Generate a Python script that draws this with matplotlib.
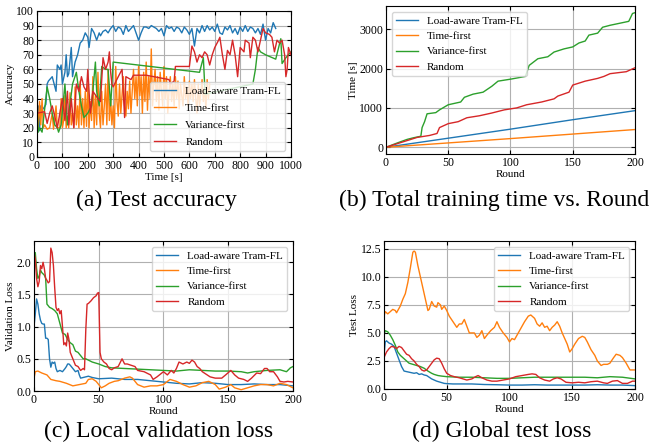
import matplotlib
matplotlib.use("Agg")
import matplotlib.pyplot as plt

plt.rcParams['font.family'] = ['Liberation Serif', 'DejaVu Serif']
plt.rcParams['font.size'] = 8
plt.rcParams['xtick.direction'] = 'in'
plt.rcParams['ytick.direction'] = 'in'
plt.rcParams['xtick.top'] = True
plt.rcParams['ytick.right'] = True
plt.rcParams['lines.linewidth'] = 1.0

labels = ['Load-aware Tram-FL', 'Time-first', 'Variance-first', 'Random']
colors = ['tab:blue', 'tab:orange', 'tab:green', 'tab:red']

# (a) test accuracy vs time
acc_blue_t = [0, 5, 10, 15, 25, 35, 40, 45, 60, 75, 80, 90, 95, 100, 110, 115, 120, 125, 135, 140,
              150, 160, 170, 180, 190, 200, 205, 215, 225, 235, 245, 250, 260, 270, 280, 290, 300,
              310, 320, 330, 340, 350, 360, 370, 380, 390, 400, 410, 420, 430, 440, 450, 470, 480,
              490, 500, 510, 520, 530, 540, 550, 560, 570, 580, 590, 600, 610, 620, 630, 640, 650,
              660, 670, 680, 690, 700, 710, 720, 730, 740, 750, 760, 770, 780, 790, 800, 810, 820,
              830, 840, 850, 860, 870, 880, 890, 900, 910, 920, 930, 940]
acc_blue = [20, 35, 18, 35, 33, 36, 50, 52, 55, 45, 63, 60, 63, 50, 58, 70, 55, 57, 75, 55,
            65, 70, 78, 80, 85, 82, 75, 88, 85, 80, 85, 83, 86, 87, 85, 88, 90,
            86, 89, 88, 84, 90, 86, 88, 90, 85, 80, 85, 89, 89, 88, 90, 88, 86,
            88, 83, 90, 88, 89, 86, 89, 88, 85, 89, 87, 84, 88, 76, 88, 85, 90,
            86, 90, 87, 89, 86, 91, 85, 84, 89, 87, 90, 85, 88, 84, 89, 86, 90,
            86, 89, 88, 85, 88, 84, 91, 80, 88, 85, 92, 88]

acc_orange_t = [0, 5, 10, 15, 20, 25, 30, 40, 50, 60, 65, 75, 80, 90, 95, 100, 105, 110, 115, 120,
                125, 130, 135, 140, 145, 150, 155, 160, 165, 170, 175, 180, 185, 190, 195, 200, 205,
                210, 215, 220, 225, 230, 235, 240, 245, 250, 255, 260, 265, 270, 275, 280, 285, 290,
                295, 300, 305, 310, 315, 320, 325, 330, 340, 345, 350, 355, 360, 365, 370, 375, 380,
                385, 390, 395, 400, 405, 410, 415, 420, 425, 430, 435, 440, 445, 450, 455, 460, 465,
                470, 475, 480, 485, 490, 495, 500, 505, 510, 515, 520, 525, 530, 535, 540, 545, 550,
                555, 560, 565, 570, 575, 580, 585, 590, 595, 600, 605, 610, 615, 620, 625, 630, 635,
                640, 650, 655, 660, 665, 670, 675, 680]
acc_orange = [35, 20, 38, 22, 40, 20, 22, 19, 20, 30, 19, 35, 20, 20, 40, 20, 25, 42, 20, 28,
              20, 44, 22, 30, 20, 48, 22, 35, 20, 52, 22, 40, 20, 45, 21, 50, 20,
              38, 25, 55, 20, 42, 22, 58, 30, 20, 45, 22, 35, 50, 22, 60, 25, 40,
              22, 35, 20, 62, 38, 28, 50, 30, 55, 35, 28, 45, 33, 52, 30, 45, 60,
              40, 55, 35, 62, 42, 55, 30, 58, 38, 65, 32, 55, 40, 74, 35, 50, 60,
              38, 55, 32, 58, 45, 35, 62, 40, 55, 30, 45, 55, 38, 50, 35, 55, 40,
              52, 33, 50, 42, 35, 55, 40, 48, 35, 52, 40, 50, 38, 53, 40, 30, 50,
              35, 53, 38, 48, 33, 53, 40, 50]

acc_green_t = [0, 5, 10, 20, 40, 50, 60, 70, 80, 85, 95, 110, 120, 140, 155, 165, 175, 185, 200,
               215, 230, 235, 245, 255, 270, 280, 290, 300, 640, 655, 662, 850, 860, 870, 880, 900,
               940, 960, 965, 980, 1000]
acc_green = [35, 17, 20, 17, 48, 40, 30, 22, 20, 17, 22, 50, 22, 50, 58, 45, 35, 27, 30,
             35, 65, 45, 35, 62, 60, 60, 35, 65, 58, 68, 43, 50, 60, 75, 72, 70,
             67, 81, 64, 68, 72]

acc_red_t = [0, 30, 40, 50, 60, 70, 80, 90, 100, 110, 120, 125, 135, 145, 155, 165, 175, 185, 195,
             200, 210, 220, 240, 250, 260, 270, 280, 285, 290, 295, 300, 320, 335, 345, 350, 370,
             380, 430, 520, 525, 540, 545, 580, 600, 610, 620, 630, 640, 650, 660, 670, 680, 690,
             700, 715, 720, 730, 740, 750, 760, 770, 780, 790, 800, 815, 820, 835, 840, 850, 860,
             870, 880, 890, 900, 915, 925, 935, 945, 955, 965, 975, 980, 985, 990, 1000]
acc_red = [30, 31, 23, 30, 35, 28, 20, 30, 40, 25, 45, 22, 40, 20, 50, 45, 55, 48, 45,
           60, 30, 45, 40, 38, 68, 60, 65, 72, 58, 50, 48, 55, 60, 27, 55, 53,
           56, 56, 53, 50, 52, 62, 62, 62, 76, 72, 65, 70, 68, 72, 70, 63, 70,
           75, 80, 82, 70, 60, 73, 70, 80, 70, 55, 75, 72, 80, 78, 68, 82, 80,
           72, 80, 88, 85, 84, 82, 72, 80, 78, 80, 70, 55, 60, 75, 70]

# (b) cumulative training time vs round
time_blue_r = [0, 50, 100, 150, 200]
time_blue = [0, 230, 460, 700, 930]
time_orange_r = [0, 50, 100, 150, 200]
time_orange = [0, 110, 220, 335, 450]
time_green_r = [0, 5, 10, 17, 22, 28, 29, 31, 33, 40, 43, 50, 60, 63, 70, 78, 85, 90, 100, 112,
                115, 122, 130, 135, 143, 150, 155, 160, 163, 170, 174, 180, 195, 198, 200]
time_green = [0, 60, 120, 200, 240, 280, 500, 650, 850, 880, 950, 1080, 1150, 1270, 1350, 1400,
              1550, 1680, 1730, 1800, 2080, 2250, 2300, 2420, 2500, 2550, 2650, 2700, 2850, 2900,
              3050, 3100, 3200, 3400, 3420]
time_red_r = [0, 15, 25, 35, 41, 43, 50, 58, 65, 75, 85, 95, 105, 113, 125, 135, 138, 147, 150,
              160, 170, 175, 180, 193, 200]
time_red = [0, 150, 250, 300, 350, 500, 600, 650, 750, 800, 870, 950, 1000, 1080, 1150, 1230,
            1300, 1400, 1580, 1680, 1750, 1800, 1870, 1920, 2020]

# (c) local validation loss
val_blue_r = [0, 1, 2, 3, 4, 5, 6, 7, 8, 9, 10, 11, 12, 13, 14, 15, 16, 17, 18, 20, 22, 24, 25, 26,
              27, 28, 30, 32, 34, 35, 36, 40, 42, 45, 50, 60, 70, 80, 90, 100, 110, 120, 130, 140,
              150, 160, 170, 180, 190, 200]
val_blue = [1.0, 1.2, 1.43, 1.35, 1.2, 1.1, 1.05, 1.04, 1.04, 0.82, 0.82, 0.8, 0.5, 0.37, 0.45,
            0.43, 0.45, 0.35, 0.30, 0.32, 0.30, 0.35, 0.38, 0.42, 0.42, 0.40, 0.35, 0.30, 0.32,
            0.25, 0.20, 0.22, 0.23, 0.21, 0.19, 0.20, 0.18, 0.18, 0.16, 0.14, 0.12, 0.11, 0.13,
            0.12, 0.10, 0.10, 0.11, 0.10, 0.10, 0.08]
val_orange_r = [0, 1, 3, 6, 10, 13, 17, 20, 25, 30, 35, 40, 42, 45, 48, 50, 52, 55, 58, 62, 65,
                70, 74, 76, 80, 85, 90, 95, 100, 105, 110, 115, 120, 125, 130, 135, 140, 143, 148,
                152, 155, 160, 165, 170, 175, 180, 185, 190, 195, 200]
val_orange = [0.2, 0.3, 0.31, 0.28, 0.25, 0.18, 0.16, 0.15, 0.12, 0.08, 0.10, 0.12, 0.18, 0.19,
              0.15, 0.10, 0.05, 0.08, 0.12, 0.15, 0.16, 0.20, 0.22, 0.20, 0.10, 0.06, 0.08, 0.08,
              0.10, 0.18, 0.15, 0.10, 0.06, 0.08, 0.13, 0.15, 0.10, 0.03, 0.06, 0.10, 0.05, 0.02,
              0.05, 0.08, 0.10, 0.10, 0.08, 0.12, 0.10, 0.05]
val_green_r = [0, 1, 2, 3, 4, 5, 6, 8, 9, 10, 12, 14, 16, 18, 20, 22, 24, 26, 28, 30, 32, 34, 36,
               38, 40, 42, 45, 50, 55, 60, 70, 80, 90, 100, 110, 120, 130, 140, 150, 160, 165, 170,
               180, 190, 195, 198, 200]
val_green = [2.1, 2.15, 1.9, 1.75, 1.78, 1.88, 1.84, 1.8, 1.75, 1.35, 1.3, 1.28, 1.25, 1.2, 1.05,
             0.9, 0.88, 0.8, 0.75, 0.72, 0.62, 0.6, 0.55, 0.5, 0.5, 0.48, 0.45, 0.42, 0.38, 0.36,
             0.35, 0.34, 0.33, 0.32, 0.31, 0.33, 0.32, 0.31, 0.31, 0.30, 0.28, 0.30, 0.32, 0.33,
             0.30, 0.36, 0.38]
val_red_r = [0, 1, 2, 3, 4, 5, 6, 7, 8, 9, 10, 11, 12, 13, 14, 15, 16, 17, 18, 19, 20, 21, 22, 23,
             24, 25, 26, 27, 28, 30, 32, 34, 36, 38, 39, 40, 41, 42, 44, 46, 48, 49, 50, 51, 52,
             54, 56, 58, 60, 62, 65, 68, 70, 72, 75, 78, 80, 85, 90, 92, 95, 100, 103, 106, 108,
             110, 112, 115, 118, 120, 122, 124, 126, 128, 130, 133, 136, 140, 145, 148, 152, 155,
             158, 162, 165, 168, 172, 175, 178, 180, 182, 185, 188, 190, 193, 196, 200]
val_red = [2.15, 2.05, 1.75, 1.62, 1.7, 1.95, 1.9, 2.0, 1.9, 1.75, 1.72, 1.68, 1.7, 2.22, 2.15,
           1.95, 1.6, 1.3, 1.25, 1.28, 1.2, 1.25, 1.0, 0.72, 0.75, 0.7, 0.9, 0.8, 0.6, 0.5, 0.4,
           0.38, 0.32, 0.35, 0.33, 0.95, 1.35, 1.36, 1.4, 1.45, 1.48, 1.52, 1.53, 0.6, 0.5, 0.45,
           0.42, 0.35, 0.33, 0.36, 0.38, 0.5, 0.42, 0.42, 0.4, 0.38, 0.32, 0.3, 0.25, 0.18, 0.22,
           0.3, 0.25, 0.32, 0.28, 0.35, 0.45, 0.42, 0.45, 0.43, 0.48, 0.45, 0.38, 0.35, 0.3, 0.26,
           0.22, 0.2, 0.2, 0.25, 0.32, 0.25, 0.2, 0.18, 0.15, 0.2, 0.28, 0.27, 0.35, 0.35, 0.3,
           0.3, 0.22, 0.15, 0.14, 0.15, 0.14]

# (d) global test loss
test_orange_r = [0, 1, 3, 5, 7, 9, 10, 12, 13, 15, 17, 19, 21, 23, 24, 25, 27, 29, 31, 33, 35, 36,
                 38, 40, 42, 43, 45, 46, 48, 50, 52, 55, 58, 60, 62, 64, 66, 68, 70, 72, 74, 76,
                 78, 80, 82, 85, 88, 90, 92, 95, 98, 100, 102, 104, 106, 108, 110, 112, 115, 117,
                 120, 122, 124, 126, 128, 130, 132, 134, 136, 138, 140, 142, 144, 146, 148, 150,
                 152, 155, 158, 160, 162, 165, 168, 170, 173, 175, 178, 180, 183, 185, 188, 190,
                 193, 196, 200]
test_orange = [6.5, 6.9, 6.7, 6.9, 7.1, 7.0, 6.8, 7.2, 7.4, 8.0, 8.5, 9.5, 10.8, 12.2, 12.3, 12.2,
               11.0, 10.0, 9.0, 8.0, 7.0, 7.1, 7.8, 7.4, 7.3, 7.7, 7.5, 7.1, 7.4, 7.0, 6.5, 6.0,
               5.5, 5.8, 5.8, 6.2, 5.6, 5.0, 5.0, 5.0, 4.6, 4.8, 5.2, 4.5, 4.8, 5.2, 5.5, 6.0, 5.5,
               5.0, 4.6, 4.2, 4.5, 4.4, 4.8, 5.2, 5.6, 6.0, 6.5, 6.6, 6.3, 5.8, 5.6, 5.9, 5.5, 5.6,
               5.2, 5.5, 5.7, 6.0, 5.6, 5.0, 4.5, 4.0, 3.3, 3.6, 4.0, 4.5, 4.7, 4.6, 4.2, 3.5, 3.0,
               2.5, 2.1, 2.2, 2.2, 2.3, 2.8, 3.1, 3.0, 2.8, 2.3, 1.7, 1.7]
test_blue_r = [0, 1, 2, 4, 6, 8, 10, 12, 14, 16, 18, 20, 22, 24, 26, 28, 30, 32, 34, 36, 38, 40,
               42, 45, 48, 50, 55, 60, 70, 80, 90, 100, 110, 120, 130, 140, 150, 160, 170, 180,
               190, 200]
test_blue = [3.0, 4.2, 4.3, 4.1, 4.0, 3.8, 3.2, 2.6, 2.0, 1.6, 1.55, 1.5, 1.45, 1.4, 1.45, 1.3,
             1.35, 1.25, 1.2, 1.05, 0.9, 0.8, 0.7, 0.6, 0.5, 0.48, 0.45, 0.45, 0.45, 0.4, 0.38,
             0.35, 0.35, 0.38, 0.35, 0.35, 0.35, 0.35, 0.38, 0.35, 0.35, 0.3]
test_green_r = [0, 1, 3, 5, 7, 9, 11, 13, 15, 17, 20, 23, 26, 29, 32, 35, 38, 40, 43, 46, 50, 60,
                70, 80, 90, 100, 110, 120, 130, 140, 150, 160, 170, 180, 190, 200]
test_green = [4.8, 5.2, 5.1, 4.8, 4.4, 3.9, 3.3, 3.0, 2.8, 2.6, 2.3, 2.2, 2.1, 2.0, 1.85, 1.6,
              1.4, 1.3, 1.2, 1.15, 1.1, 1.05, 1.05, 1.0, 0.95, 0.95, 1.0, 1.05, 1.05, 1.05, 1.05,
              1.05, 1.0, 1.1, 1.05, 0.9]
test_red_r = [0, 2, 4, 6, 8, 10, 12, 14, 16, 18, 20, 22, 24, 26, 28, 30, 32, 34, 36, 38, 40, 42,
              44, 46, 48, 50, 53, 56, 60, 63, 66, 70, 73, 75, 78, 82, 86, 90, 95, 100, 105, 110,
              115, 118, 121, 124, 128, 132, 135, 138, 141, 145, 150, 155, 160, 165, 170, 175,
              178, 182, 186, 190, 194, 198, 200]
test_red = [2.8, 3.3, 3.6, 3.8, 3.75, 3.6, 3.8, 3.7, 3.4, 3.1, 3.0, 2.7, 2.5, 2.2, 2.0, 1.7, 1.6,
            1.7, 2.0, 2.3, 2.6, 2.75, 2.7, 2.3, 1.8, 1.4, 1.2, 1.1, 1.0, 0.9, 0.8, 0.9, 1.1, 1.2,
            1.0, 0.8, 0.7, 0.7, 0.8, 0.9, 1.1, 1.2, 1.3, 1.35, 1.3, 1.0, 0.8, 0.7, 0.9, 1.0, 0.9,
            0.6, 0.55, 0.6, 0.55, 0.65, 0.7, 0.55, 0.5, 0.7, 0.75, 0.5, 0.5, 0.7, 0.7]

fig = plt.figure(figsize=(6.64, 4.48), dpi=100)
ax_a = fig.add_axes([0.0557, 0.6496, 0.3825, 0.3259])
ax_b = fig.add_axes([0.5813, 0.6563, 0.375, 0.3304])
ax_c = fig.add_axes([0.0512, 0.1272, 0.390, 0.3348])
ax_d = fig.add_axes([0.5783, 0.1317, 0.378, 0.3304])

# (a)
for t, y, c, lab in [(acc_blue_t, acc_blue, colors[0], labels[0]),
                     (acc_orange_t, acc_orange, colors[1], labels[1]),
                     (acc_green_t, acc_green, colors[2], labels[2]),
                     (acc_red_t, acc_red, colors[3], labels[3])]:
    ax_a.plot(t, y, color=c, label=lab)
ax_a.set_xlim(0, 1000)
ax_a.set_ylim(0, 100)
ax_a.set_xticks(range(0, 1001, 100))
ax_a.set_yticks(range(0, 101, 10))
ax_a.set_xlabel('Time [s]', labelpad=1)
ax_a.set_ylabel('Accuracy', labelpad=1)
ax_a.legend(loc='lower right', fontsize=8, labelspacing=0.65)

# (b)
for r, y, c, lab in [(time_blue_r, time_blue, colors[0], labels[0]),
                     (time_orange_r, time_orange, colors[1], labels[1]),
                     (time_green_r, time_green, colors[2], labels[2]),
                     (time_red_r, time_red, colors[3], labels[3])]:
    ax_b.plot(r, y, color=c, label=lab)
ax_b.set_xlim(0, 200)
ax_b.set_xticks([0, 50, 100, 150, 200])
ax_b.set_yticks([0, 1000, 2000, 3000])
ax_b.set_xlabel('Round', labelpad=1)
ax_b.set_ylabel('Time [s]', labelpad=1)
ax_b.legend(loc='upper left', fontsize=8)

# (c)
for r, y, c, lab in [(val_blue_r, val_blue, colors[0], labels[0]),
                     (val_orange_r, val_orange, colors[1], labels[1]),
                     (val_green_r, val_green, colors[2], labels[2]),
                     (val_red_r, val_red, colors[3], labels[3])]:
    ax_c.plot(r, y, color=c, label=lab)
ax_c.set_xlim(0, 200)
ax_c.set_ylim(bottom=0)
ax_c.set_xticks([0, 50, 100, 150, 200])
ax_c.set_xlabel('Round', labelpad=1)
ax_c.set_ylabel('Validation Loss', labelpad=1)
ax_c.legend(loc='upper right', fontsize=8)

# (d)
for r, y, c, lab in [(test_blue_r, test_blue, colors[0], labels[0]),
                     (test_orange_r, test_orange, colors[1], labels[1]),
                     (test_green_r, test_green, colors[2], labels[2]),
                     (test_red_r, test_red, colors[3], labels[3])]:
    ax_d.plot(r, y, color=c, label=lab)
ax_d.set_xlim(0, 200)
ax_d.set_ylim(0, 13.2)
ax_d.set_xticks([0, 50, 100, 150, 200])
ax_d.set_yticks([0, 2.5, 5.0, 7.5, 10.0, 12.5])
ax_d.set_xlabel('Round', labelpad=1)
ax_d.set_ylabel('Test Loss', labelpad=1)
ax_d.legend(loc='upper right', fontsize=8)

for ax in [ax_a, ax_b, ax_c, ax_d]:
    ax.grid(True, color='#b0b0b0', linewidth=0.8)
    ax.tick_params(labelsize=8.5, pad=2, length=3)

fig.text(0.236, 1 - 200 / 448, '(a) Test accuracy', ha='center', va='center', fontsize=17)
fig.text(0.744, 1 - 200 / 448, '(b) Total training time vs. Round', ha='center', va='center', fontsize=17)
fig.text(0.2395, 1 - 431 / 448, '(c) Local validation loss', ha='center', va='center', fontsize=17)
fig.text(0.756, 1 - 431 / 448, '(d) Global test loss', ha='center', va='center', fontsize=17)

fig.savefig('out.png', dpi=100)
